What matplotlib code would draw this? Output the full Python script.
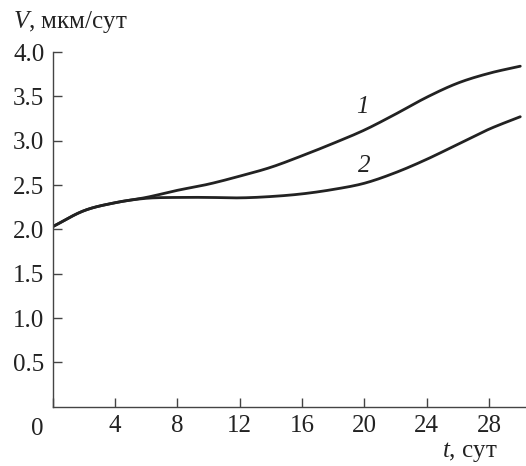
import matplotlib
matplotlib.use('Agg')
import matplotlib.pyplot as plt
import numpy as np

plt.rcParams['font.family'] = ['Liberation Serif', 'DejaVu Serif']
plt.rcParams['mathtext.fontset'] = 'custom'
plt.rcParams['mathtext.it'] = 'Liberation Serif:italic'
plt.rcParams['mathtext.rm'] = 'Liberation Serif'

# данные
t = [0, 2, 4, 6, 8, 10, 12, 14, 16, 18, 20, 22, 24, 26, 28, 30]
v1 = [2.03, 2.21, 2.30, 2.36, 2.44, 2.51, 2.60, 2.70, 2.83, 2.97, 3.12, 3.30,
      3.49, 3.65, 3.76, 3.84]
v2 = [2.03, 2.21, 2.30, 2.35, 2.36, 2.36, 2.355, 2.37, 2.40, 2.45, 2.52, 2.64,
      2.79, 2.96, 3.13, 3.27]
x_ticks = [0, 4, 8, 12, 16, 20, 24, 28]
y_ticks = [0.5, 1.0, 1.5, 2.0, 2.5, 3.0, 3.5, 4.0]
curve_labels = [('1', 19.9, 3.38), ('2', 20.0, 2.71)]


def smooth(x, y, n=20):
    # сглаживание Catmull-Rom между точками
    x = np.asarray(x, float)
    y = np.asarray(y, float)
    px = np.concatenate([[2 * x[0] - x[1]], x, [2 * x[-1] - x[-2]]])
    py = np.concatenate([[2 * y[0] - y[1]], y, [2 * y[-1] - y[-2]]])
    xs, ys = [], []
    s = np.linspace(0, 1, n, endpoint=False)
    for i in range(1, len(px) - 2):
        for p, out in ((px, xs), (py, ys)):
            p0, p1, p2, p3 = p[i - 1], p[i], p[i + 1], p[i + 2]
            out.extend(0.5 * (2 * p1 + (-p0 + p2) * s
                              + (2 * p0 - 5 * p1 + 4 * p2 - p3) * s ** 2
                              + (-p0 + 3 * p1 - 3 * p2 + p3) * s ** 3))
    xs.append(x[-1])
    ys.append(y[-1])
    return np.array(xs), np.array(ys)


fig = plt.figure(figsize=(5.26, 4.66), dpi=100)
ax = fig.add_axes([0.1002, 0.1273, 0.8978, 0.7611])

for v in (v1, v2):
    xs, ys = smooth(t, v)
    ax.plot(xs, ys, color='#222222', linewidth=2.0, solid_capstyle='round')

for txt, xl, yl in curve_labels:
    ax.text(xl, yl, txt, fontsize=18, fontstyle='italic', ha='center',
            va='center', color='#222222')

ax.set_xlim(0, 30.3)
ax.set_ylim(0, 4.0)
ax.set_xticks(x_ticks)
ax.set_xticklabels([''] + [str(x) for x in x_ticks[1:]])
ax.set_yticks(y_ticks)
ax.set_yticklabels([f'{y:.1f}' for y in y_ticks])
ax.tick_params(direction='in', length=6.5, width=1.0, color='#444444',
               labelsize=18, labelcolor='#222222')
ax.tick_params(axis='x', pad=6)
ax.tick_params(axis='y', pad=6)

for side in ('top', 'right'):
    ax.spines[side].set_visible(False)
for side in ('left', 'bottom'):
    ax.spines[side].set_color('#444444')
    ax.spines[side].set_linewidth(1.0)

# «0» в начале координат, сдвинут влево
ax.text(-1.0, -0.25, '0', fontsize=18, ha='center', va='center',
        color='#222222', clip_on=False)

fig.text(0.025, 0.953, '$V$, мкм/сут', fontsize=18, ha='left', va='center',
         color='#222222')
fig.text(0.84, 0.03, '$t$, сут', fontsize=18, ha='left', va='center',
         color='#222222')

fig.savefig('out.png', dpi=100)
